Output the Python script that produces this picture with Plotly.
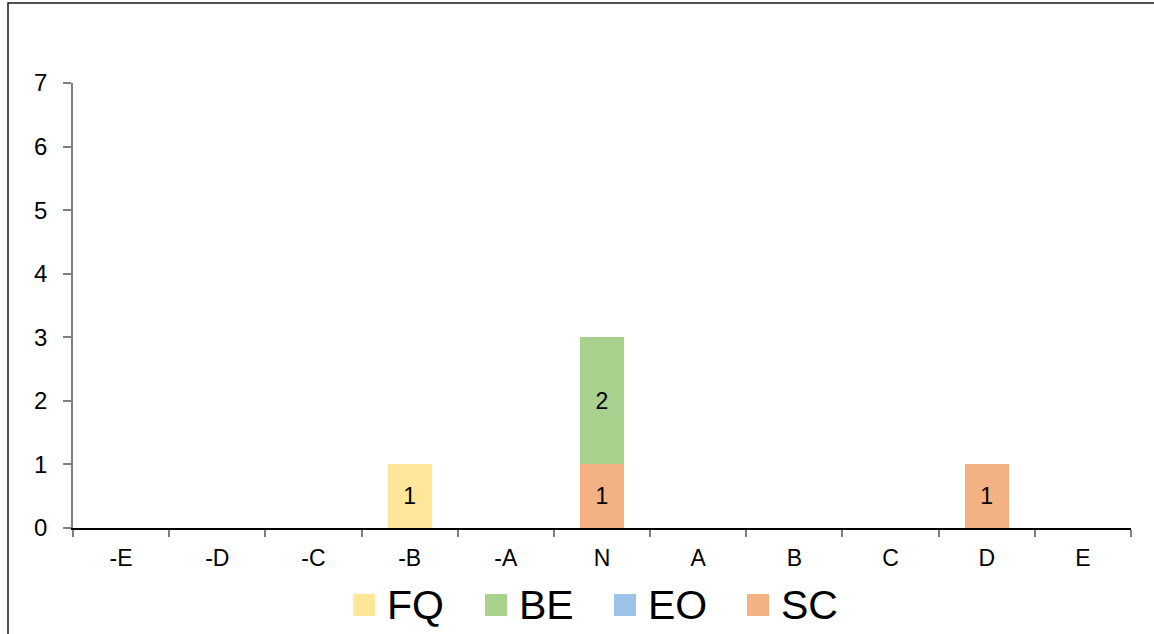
import plotly.graph_objects as go

categories = ["-E", "-D", "-C", "-B", "-A", "N", "A", "B", "C", "D", "E"]
series_names = ["FQ", "BE", "EO", "SC"]
fq_values = [None, None, None, 1, None, None, None, None, None, None, None]
be_values = [None, None, None, None, None, 2, None, None, None, None, None]
eo_values = [None, None, None, None, None, None, None, None, None, None, None]
sc_values = [None, None, None, None, None, 1, None, None, None, 1, None]
colors = {"FQ": "#FFE699", "BE": "#A9D18E", "EO": "#9DC3E6", "SC": "#F4B183"}
y_ticks = [0, 1, 2, 3, 4, 5, 6, 7]

values = {"FQ": fq_values, "BE": be_values, "EO": eo_values, "SC": sc_values}
FONT = "Liberation Sans, Arial, sans-serif"

fig = go.Figure()
# bottom-first stacking order as in reference (SC at bottom)
for name in ["SC", "EO", "BE", "FQ"]:
    vals = values[name]
    fig.add_trace(go.Bar(
        x=categories, y=vals, name=name,
        marker=dict(color=colors[name], line=dict(width=0)),
        text=[str(v) if v else "" for v in vals],
        textposition="inside", insidetextanchor="middle",
        textfont=dict(family=FONT, size=23, color="black"),
        constraintext="none",
        showlegend=False,
    ))

W, H = 1154, 634
ml, mr, mt, mb = 73, 23, 83, 106
pw, ph = W - ml - mr, H - mt - mb

def px_x(p):
    return (p - ml) / pw

def px_y(p):
    return (H - mb - p) / ph

shapes = [dict(type="rect", xref="paper", yref="paper",
               x0=px_x(8), x1=px_x(1170), y0=px_y(3), y1=px_y(650),
               line=dict(color="#1a1a1a", width=1.5), fillcolor="rgba(0,0,0,0)", layer="below")]
annotations = []
legend_x = [353, 485, 614, 747]
for name, lx in zip(series_names, legend_x):
    shapes.append(dict(type="rect", xref="paper", yref="paper",
                       x0=px_x(lx), x1=px_x(lx + 22), y0=px_y(594), y1=px_y(616),
                       line=dict(width=0), fillcolor=colors[name]))
    annotations.append(dict(xref="paper", yref="paper", x=px_x(lx + 32), y=px_y(605),
                            xanchor="left", yanchor="middle", text=name, showarrow=False,
                            font=dict(family=FONT, size=41, color="black")))

fig.update_layout(
    width=W, height=H, barmode="stack", bargap=0.54,
    margin=dict(l=ml, r=mr, t=mt, b=mb),
    paper_bgcolor="white", plot_bgcolor="white",
    font=dict(family=FONT, size=23, color="black"),
    shapes=shapes, annotations=annotations,
    xaxis=dict(type="category", categoryorder="array", categoryarray=categories,
               range=[-0.5, 10.5], showgrid=False, showline=True, linecolor="black", linewidth=1.5,
               ticks="outside", tickson="boundaries", ticklen=7, tickcolor="#808080", tickwidth=1.5,
               tickfont=dict(family=FONT, size=23, color="black"), ticklabelstandoff=9,
               zeroline=False, fixedrange=True),
    yaxis=dict(range=[0, 7], tickvals=y_ticks, showgrid=False, showline=True, linecolor="#808080",
               linewidth=1.5, ticks="outside", ticklen=8, tickcolor="#808080", tickwidth=1.5,
               tickfont=dict(family=FONT, size=24, color="black"), ticklabelstandoff=11,
               zeroline=False, fixedrange=True),
)

fig.write_html("out.html", config={"displayModeBar": False},
               post_script="document.body.style.margin='0';document.body.style.overflow='hidden';")
